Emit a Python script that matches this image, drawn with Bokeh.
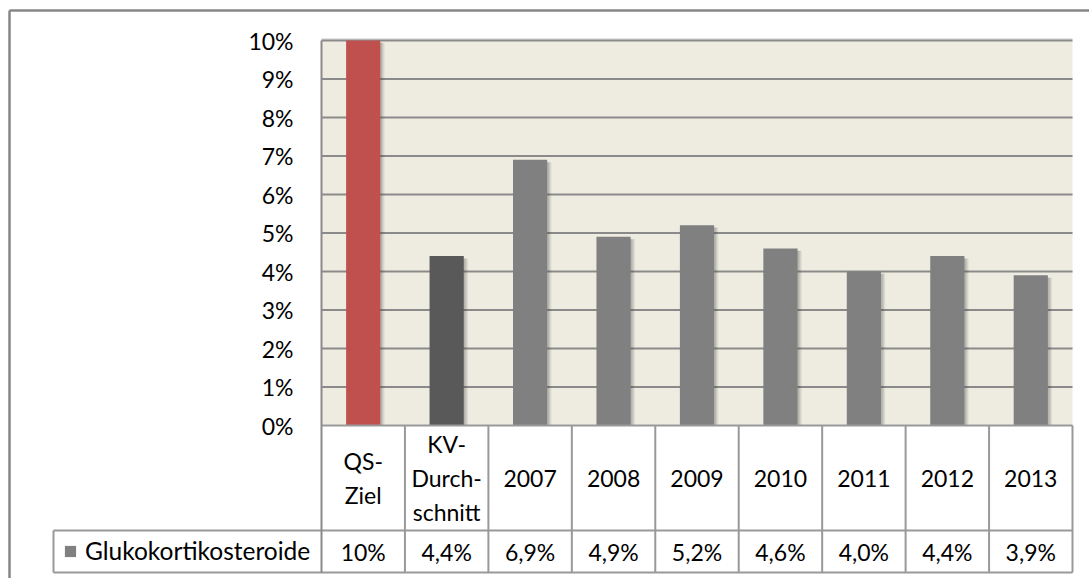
from bokeh.plotting import figure
from bokeh.models import (ColumnDataSource, FactorRange, Range1d, FixedTicker,
                          BoxAnnotation, Legend, LegendItem)
from bokeh.transform import dodge
from bokeh.core.properties import value
from bokeh.embed import file_html
from bokeh.resources import INLINE

# ---------------- data ----------------
categories = ["QS-Ziel", "KV-Durchschnitt", "2007", "2008", "2009", "2010", "2011", "2012", "2013"]
header_labels = ["QS-\nZiel", "KV-\nDurch-\nschnitt", "2007", "2008", "2009", "2010", "2011", "2012", "2013"]
values = [10.0, 4.4, 6.9, 4.9, 5.2, 4.6, 4.0, 4.4, 3.9]
value_labels = ["10%", "4,4%", "6,9%", "4,9%", "5,2%", "4,6%", "4,0%", "4,4%", "3,9%"]
series_name = "Glukokortikosteroide"
y_ticks = [0, 1, 2, 3, 4, 5, 6, 7, 8, 9, 10]
y_tick_labels = ["0%", "1%", "2%", "3%", "4%", "5%", "6%", "7%", "8%", "9%", "10%"]

# ---------------- style / layout (pixels) ----------------
W, H = 1089, 578
FONT = "Lato"
FS = "23px"
TXT = "#000000"
LINE = "#8A8A8A"
TLINE = "#999999"
PLOT_L, PLOT_R, PLOT_T = 321, 1072, 40       # plot area edges
KEY_L = 53                                   # left edge of legend key cell
HEADER_H, ROW_H = 105, 42
BAR_W = 0.41

n = len(categories)
U = (PLOT_R - PLOT_L) / n                    # px per category
PAD = (W - PLOT_R) / U                       # right padding in category units
GAP = PLOT_L / U - PAD - 1                   # spacing group before the data group
PXY = 38.5                                   # px per percent
PLOT_B = PLOT_T + 10 * PXY
y_max = 10 + PLOT_T / PXY
y_min = -(H - PLOT_B) / PXY

def sx(px):   # page pixel -> synthetic x
    return -PAD + px / U

def sy(py):   # page pixel -> data y
    return y_max - py / PXY

x_left = sx(PLOT_L)
x_right = sx(PLOT_R)
y_hdr = sy(PLOT_B + HEADER_H)
y_row = sy(PLOT_B + HEADER_H + ROW_H)

factors = [("key", "key")] + [("data", c) for c in categories]
xr = FactorRange(factors=factors, group_padding=GAP,
                 range_padding=PAD, range_padding_units="absolute")

p = figure(width=W, height=H, x_range=xr, y_range=Range1d(y_min, y_max),
           output_backend="svg", toolbar_location=None, x_axis_location=None,
           min_border=0, min_border_left=0, min_border_right=0,
           min_border_top=0, min_border_bottom=0)
p.outline_line_color = None
p.background_fill_color = "white"
p.border_fill_color = "white"
p.xgrid.visible = False
p.ygrid.visible = False

# plot area background
p.add_layout(BoxAnnotation(left=x_left, right=x_right, bottom=0, top=10,
                           fill_color="#EEECE1", fill_alpha=1.0,
                           line_color=None, level="underlay"))
# thin light edge above the plot area
p.segment(x0=[x_left], x1=[x_right], y0=[sy(PLOT_T - 1.5)], y1=[sy(PLOT_T - 1.5)],
          line_color="#C8C8C8", line_width=1)
# horizontal gridlines
p.segment(x0=[x_left] * 10, x1=[x_right] * 10, y0=y_ticks[1:], y1=y_ticks[1:],
          line_color=LINE, line_width=2)

# y axis at the plot area's left edge
ax = p.yaxis[0]
ax.fixed_location = x_left
ax.ticker = FixedTicker(ticks=y_ticks)
ax.major_label_overrides = {t: l for t, l in zip(y_ticks, y_tick_labels)}
ax.major_label_text_font = FONT
ax.major_label_text_font_size = FS
ax.major_label_text_color = TXT
ax.major_tick_line_color = None
ax.minor_tick_line_color = None
ax.axis_line_color = LINE
ax.axis_line_width = 2
ax.major_label_standoff = 22
ax.bounds = (y_row, 10)

# ---------------- bars ----------------
cat_x = [("data", c) for c in categories]
src_all = ColumnDataSource(dict(cat=cat_x, val=values,
                                hdr=header_labels, lab=value_labels))
src_qs = ColumnDataSource(dict(cat=cat_x[:1], val=values[:1]))
src_kv = ColumnDataSource(dict(cat=cat_x[1:2], val=values[1:2]))
src_yr = ColumnDataSource(dict(cat=cat_x[2:], val=values[2:]))

for off, a in [(0.05, 0.10), (0.035, 0.12), (0.02, 0.14)]:
    p.vbar(x=dodge("cat", off, range=xr), top=dodge("val", -0.06), bottom=0,
           width=BAR_W, source=src_all, fill_color="#404040", fill_alpha=a,
           line_color=None)

p.vbar(x="cat", top="val", bottom=0, width=BAR_W, source=src_qs,
       fill_color="#C0504D", line_color=None)
p.vbar(x="cat", top="val", bottom=0, width=BAR_W, source=src_kv,
       fill_color="#595959", line_color=None)
r_years = p.vbar(x="cat", top="val", bottom=0, width=BAR_W, source=src_yr,
                 fill_color="#808080", line_color=None)

# ---------------- data table ----------------
x_key = sx(KEY_L)
p.segment(x0=[x_left, x_key, x_key], x1=[x_right] * 3,
          y0=[0, y_hdr, y_row], y1=[0, y_hdr, y_row],
          line_color=TLINE, line_width=2)
vx = [x_left + i for i in range(1, n + 1)] + [x_key]
p.segment(x0=vx, x1=vx, y0=[0] * n + [y_hdr], y1=[y_row] * (n + 1),
          line_color=TLINE, line_width=2)

p.text(x="cat", y=y_hdr / 2, text="hdr", source=src_all,
       text_font=value(FONT), text_font_size=FS, text_color=TXT,
       text_align="center", text_baseline="middle", text_line_height=1.22)
p.text(x="cat", y=(y_hdr + y_row) / 2, text="lab", source=src_all,
       text_font=value(FONT), text_font_size=FS, text_color=TXT,
       text_align="center", text_baseline="middle")

legend = Legend(items=[LegendItem(label=series_name, renderers=[r_years])],
                location=(63, 13), padding=0, margin=0, spacing=0,
                glyph_width=14, glyph_height=14, label_standoff=8,
                label_height=28,
                label_text_font=FONT, label_text_font_size="24.5px",
                label_text_color=TXT, label_text_baseline="middle",
                border_line_color=None, background_fill_alpha=0)
p.add_layout(legend)

# outer chart border (top and left edges)
bx, by = sx(9), sy(10)
p.segment(x0=[bx, bx], x1=[bx, sx(W + 5)], y0=[by, by], y1=[sy(H + 5), by],
          line_color="#868686", line_width=2.5)

open("out.html", "w").write(file_html(p, INLINE))
